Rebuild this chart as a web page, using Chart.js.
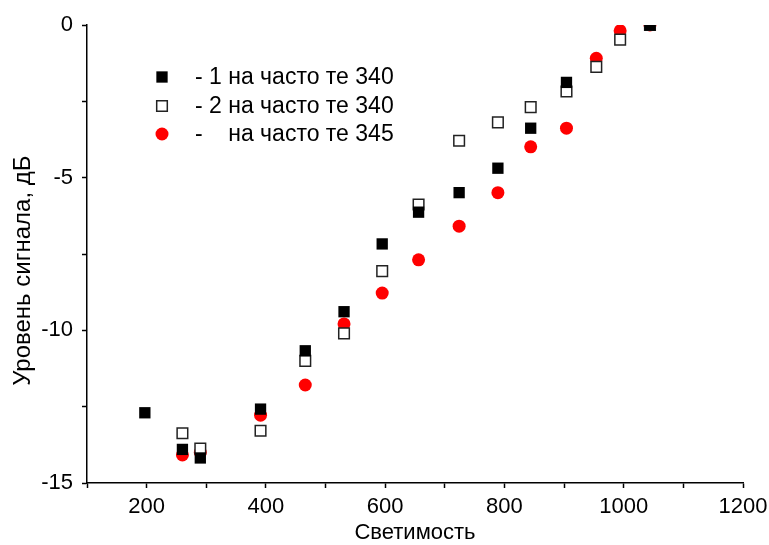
<!DOCTYPE html>
<html>
<head>
<meta charset="utf-8">
<script src="https://cdn.jsdelivr.net/npm/chart.js@4"></script>
<style>
  html, body { margin: 0; padding: 0; background: #fff; }
  #wrap { width: 769px; height: 545px; }
</style>
</head>
<body>
<div id="wrap"><canvas id="c" width="769" height="545"></canvas></div>
<script>
// luminosity values (x) shared by the series
const luminosity1 = [197, 260, 290, 391, 466, 531, 595, 656, 724, 789, 844, 904, 1044];
const signal1 = [-12.7, -13.9, -14.18, -12.58, -10.67, -9.39, -7.17, -6.13, -5.49, -4.69, -3.38, -1.88, 0];

const luminosity2 = [260, 290, 391, 466, 531, 595, 656, 724, 789, 844, 904, 954, 994, 1044];
const signal2 = [-13.37, -13.87, -13.29, -11.0, -10.1, -8.06, -5.88, -3.79, -3.19, -2.69, -2.18, -1.37, -0.48, 0];

const luminosity3 = [260, 290, 391, 466, 531, 595, 656, 724, 789, 844, 904, 954, 994, 1044];
const signal3 = [-14.08, -14.0, -12.78, -11.79, -9.79, -8.78, -7.69, -6.59, -5.49, -3.99, -3.38, -1.09, -0.19, 0];

const seriesLabels = ['- 1 на часто те 340', '- 2 на часто те 340', '-    на часто те 345'];
const xTickLabels = [200, 400, 600, 800, 1000, 1200];
const yTickLabels = [-15, -10, -5, 0];

const FONT = "'Liberation Sans', Arial, sans-serif";

function toPoints(xs, ys) {
    return xs.map((x, i) => ({ x: x, y: ys[i] }));
}

// legend drawn inside the plot, like the original
const innerLegend = {
    id: 'innerLegend',
    afterDatasetsDraw(chart) {
        const ctx = chart.ctx;
        const rowX = 162, textX = 195, rowY = [77, 106, 134];
        ctx.save();
        chart.data.datasets.forEach((ds, i) => {
            const y = rowY[i];
            ctx.beginPath();
            if (ds.pointStyle === 'circle') {
                ctx.arc(rowX, y, ds.pointRadius, 0, Math.PI * 2);
            } else {
                const h = ds.pointRadius * Math.SQRT1_2;
                ctx.rect(rowX - h, y - h, 2 * h, 2 * h);
            }
            ctx.fillStyle = ds.backgroundColor;
            ctx.fill();
            if (ds.borderWidth) {
                ctx.lineWidth = ds.borderWidth;
                ctx.strokeStyle = ds.borderColor;
                ctx.stroke();
            }
            ctx.fillStyle = '#000';
            ctx.font = '23px ' + FONT;
            ctx.textBaseline = 'middle';
            ctx.fillText(ds.label, textX, y + 1);
        });
        ctx.restore();
    }
};

new Chart(document.getElementById('c'), {
    type: 'scatter',
    data: {
        datasets: [{
            label: seriesLabels[0],
            data: toPoints(luminosity1, signal1),
            pointStyle: 'rect',
            pointRadius: 8,
            backgroundColor: '#000',
            borderColor: '#000',
            borderWidth: 0,
            clip: 0
        }, {
            label: seriesLabels[1],
            data: toPoints(luminosity2, signal2),
            pointStyle: 'rect',
            pointRadius: 7.5,
            backgroundColor: '#fff',
            borderColor: '#222',
            borderWidth: 1.5,
            clip: 0
        }, {
            label: seriesLabels[2],
            data: toPoints(luminosity3, signal3),
            pointStyle: 'circle',
            pointRadius: 6.5,
            backgroundColor: '#ff0000',
            borderColor: '#ff0000',
            borderWidth: 0,
            clip: 0
        }]
    },
    options: {
        responsive: false,
        animation: false,
        events: [],
        layout: { padding: { left: 0, top: 25, right: 26, bottom: 0 } },
        plugins: { legend: { display: false }, tooltip: { enabled: false } },
        scales: {
            x: {
                type: 'linear',
                min: 100,
                max: 1200,
                // fixed axis height, and let the last tick label run off the edge
                afterFit: s => { s.height = 62; s.paddingLeft = 0; s.paddingRight = 0; },
                border: { display: true, color: '#000', width: 1.5 },
                grid: { drawOnChartArea: false, tickLength: 5, tickColor: '#000', tickWidth: 1.5 },
                ticks: {
                    stepSize: 100,
                    autoSkip: false,
                    maxRotation: 0,
                    color: '#000',
                    padding: 6,
                    font: { family: FONT, size: 22 },
                    callback: v => xTickLabels.includes(v) ? String(v) : ''
                },
                title: {
                    display: true,
                    text: 'Светимость',
                    color: '#000',
                    font: { family: FONT, size: 22 },
                    padding: { top: 0, bottom: -1 }
                }
            },
            y: {
                type: 'linear',
                min: -15,
                max: 0,
                afterFit: s => { s.width = 87; s.paddingTop = 0; s.paddingBottom = 0; },
                border: { display: true, color: '#000', width: 1.5 },
                grid: { drawOnChartArea: false, tickLength: 5, tickColor: '#000', tickWidth: 1.5 },
                ticks: {
                    stepSize: 2.5,
                    autoSkip: false,
                    color: '#000',
                    padding: 9,
                    font: { family: FONT, size: 22 },
                    callback: v => yTickLabels.includes(v) ? String(v) : ''
                },
                title: {
                    display: true,
                    // trailing spaces push the centred title a little lower, as in the original
                    text: 'Уровень сигнала, дБ     ',
                    color: '#000',
                    font: { family: FONT, size: 24 },
                    padding: { top: 9, bottom: 0 }
                }
            }
        }
    },
    plugins: [innerLegend]
});
</script>
</body>
</html>
